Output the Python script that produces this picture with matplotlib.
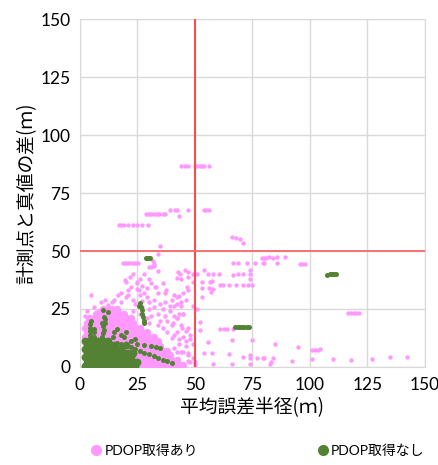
import matplotlib
matplotlib.use("Agg")
import matplotlib.pyplot as plt
from matplotlib.lines import Line2D

plt.rcParams['font.family'] = ['Lato', 'Noto Sans CJK JP', 'DejaVu Sans']

# --- data (x = 平均誤差半径, y = 計測点と真値の差) ---
# dense pink area, one row per y value
pink_blob_rows = [
    (1,  [23, 25, 27, 29, 31, 33, 35, 37, 39, 41, 43, 45]),
    (3,  [22, 24, 26, 28, 30, 32, 34, 36, 38, 40, 42]),
    (5,  [23, 25, 27, 29, 31, 33, 35, 37, 39]),
    (7,  [20, 22, 24, 26, 28, 30, 32, 34, 36, 38]),
    (9,  [15, 17, 19, 21, 23, 25, 27, 29, 31, 33, 35]),
    (11, [14, 16, 18, 20, 22, 24, 26, 28, 30, 32, 34]),
    (13, [2, 4, 6, 8, 10, 12, 14, 16, 18, 20, 22, 24, 26, 28, 30, 32]),
    (15, [3, 5, 7, 9, 11, 13, 15, 17, 19, 21, 23, 25, 27, 29]),
    (17, [2, 4, 6, 8, 10, 12, 14, 16, 18, 20, 22, 24, 26]),
    (19, [3, 5, 7, 9, 11, 13, 15, 17, 19, 21, 23]),
    (21, [4, 6, 8, 10, 12, 14, 16, 18, 20, 22]),
    (23, [7, 9, 11, 13, 15, 17, 19]),
    (25, [10, 12, 14, 16]),
]

pink_scatter = [
    (5, 31), (9, 28), (12, 26.7), (16.5, 31), (21, 31), (19.6, 37.5), (22, 34.5),
    (25, 36), (25.5, 33), (26, 31), (32.6, 34.5), (34, 32), (37, 32), (20, 30),
    (21, 33), (20, 36.5), (21.7, 38.8), (24.8, 36.6), (24.8, 33.8), (33, 34.5),
    (37.4, 33), (28, 32), (29, 30), (30, 28), (32, 29), (35, 27), (37, 28),
    (40, 29), (42, 30), (44, 28), (46, 29), (36, 25), (39, 24), (41, 22),
    (43, 23), (45, 23), (42, 21), (38, 20), (40, 18), (44, 18), (47, 17),
    (42, 15), (45, 13), (48, 12), (40, 12.5), (43, 10), (46, 9), (41, 8),
    (44, 6.5), (47, 6), (49, 4), (42, 3.5), (48, 2), (50, 1), (14, 28),
    (18, 28), (24, 27), (27, 26), (30, 25), (32, 26), (34, 23), (31, 22),
    (35, 20), (37, 22), (36, 17), (38, 15), (34, 18), (30, 19), (29, 21),
    (26, 23), (23, 24), (3, 24), (2, 22), (6, 26), (8, 24), (11, 29),
    (15, 29), (18, 32), (23, 29), (27, 28.5), (29, 34), (31, 36), (36, 36),
    (30, 38), (28, 40), (34, 41.4), (30, 43), (31, 43), (32, 44.4), (31.7, 45.7),
    (32, 43.5), (35, 52), (34, 48.7), (26, 38), (23, 40), (27, 35),
    (42.6, 41), (43.6, 40.3), (45.6, 41.8), (47, 41), (49, 40), (51, 40),
    (47, 38.8), (49, 36.6), (46.5, 34.5), (47, 33), (53, 34), (42, 38.3),
    (44, 37.8), (41, 31), (43, 30.5), (45, 32), (42, 27), (44, 26.5),
    (39, 26.5), (41, 26.3), (49, 26.3), (51, 25), (45, 23), (52, 19.4),
    (52, 16), (42, 21), (40.5, 19), (44.5, 17), (46, 15.5), (48, 14), (41, 14),
    (43, 12), (46, 11), (49, 10), (42, 6.5), (45, 6.5), (47, 5),
    (39, 2), (47, 2.5), (50, 2),
    (54, 41.8), (55.6, 40), (57.8, 40), (60.4, 40), (53, 36.5), (56.5, 36.5),
    (57.4, 37), (56, 34), (57, 32.5), (58, 33.5), (53, 30),
    (61, 35.3), (62, 35.3), (65, 35.3), (68, 35.3), (71, 35.3), (73, 35.5),
    (75, 35.5), (66.5, 39.7), (68.7, 40), (71, 40), (74, 40.3), (74, 41.8),
    (74, 38), (66.5, 44.8), (68.7, 44.8), (72.6, 44.8), (76, 44.8), (79.6, 44.8),
    (66, 56.2), (68, 55.5), (69.5, 55), (70.7, 53.3),
    (61, 16.4), (62.5, 16.4), (64, 16.4), (66.5, 16.4),
    (55.6, 10.8), (66, 11.6), (75, 11.6), (54, 6), (57.4, 6), (65, 5.6),
    (71, 4.5), (74, 5), (74, 4), (77, 4), (79.6, 4), (58, 1.3), (66, 1.3),
    (74, 1.3), (82.6, 1.3),
    (79, 47), (80, 47), (81, 47), (82, 47.3), (84, 47), (85.6, 47.5), (89, 47.5),
    (80, 45), (85.6, 45), (95.6, 44.4), (96.7, 44.4), (97.8, 44.4),
    (116.5, 23.3), (117.7, 23.3), (119, 23.3), (120.2, 23.3), (121.3, 23.3),
    (84.8, 10), (94.8, 8.6), (101, 7.3), (102.2, 7.3), (103.5, 7.3), (104.3, 7.8),
    (80, 4), (84, 4), (83, 2), (92, 2.6), (101, 3.4), (110, 3.4), (118, 3),
    (127, 3.4), (135, 4.3), (142, 4.3),
]

# rows of points at one y value
pink_runs = [
    (86.5, [44, 45.5, 47, 50, 51, 52, 53, 54, 56]),
    (67.7, [39, 41.5, 42, 47, 54, 55, 56]),
    (66,   [28.5, 29.5, 30.5, 31.5, 32.5, 33.5, 34.5, 36, 37]),
    (65,   [43]),
    (61.2, [17, 18, 19, 21, 23, 25, 27, 29.5]),
    (44.8, [18.7, 19.5, 20.5, 21.5, 22.5, 23.5, 24.5, 25.2]),
]

green_blob_rows = [
    (0.5, [2, 4, 6, 8, 10, 12, 14, 16, 18, 20, 22, 24]),
    (2.3, [3, 5, 7, 9, 11, 13, 15, 17, 19, 21, 23, 25]),
    (4.1, [2, 4, 6, 8, 10, 12, 14, 16, 18, 20, 22]),
    (5.9, [3, 5, 7, 9, 11, 13, 15, 17, 19, 21, 23]),
    (7.7, [2, 4, 6, 8, 10, 12, 14, 16, 18]),
    (9.5, [3, 5, 7, 9, 11, 13, 15, 20]),
    (11,  [2, 4, 6, 8, 10, 12]),
]

green_scatter = [
    (4.5, 12.5), (4.5, 14), (4.5, 15.5), (4.5, 17), (4.5, 18.5), (5, 20),
    (6, 13), (6, 15), (6, 16.5), (9.5, 13), (10, 14.5), (10.5, 16), (10, 17.5),
    (11, 19), (11, 20.5), (10.5, 21.5), (9.5, 19), (10, 24.5), (12, 23.7),
    (14.5, 13), (15, 15), (16, 16.5), (18, 14), (19, 13), (20, 15),
    (26, 27.5), (25.5, 26.5), (26.5, 26), (27, 24.5), (27, 23), (27.5, 21.5),
    (28, 20), (28, 19),
    (22, 8.6), (24, 7.8), (26, 7), (28, 6.2), (30, 5.5), (32, 4.8), (34, 4),
    (36, 3.2), (38, 2.4), (40, 1.7),
    (25, 10), (28, 9.5), (31, 9), (33, 8.5), (35, 8),
    (16, 10.5), (18, 10), (22, 11), (24, 12),
    (28.8, 47), (29.5, 47.2), (30.3, 47),
    (67.5, 17.2), (68.5, 17.2), (69.5, 17.2), (70.5, 17.2), (71.5, 17.2),
    (72.5, 17.2), (73.5, 17.2),
    (107.5, 39.8), (108.5, 39.9), (109.5, 40), (110.5, 40.1), (111.5, 40.3),
]

label_pink = 'PDOP取得あり'
label_green = 'PDOP取得なし'
pink = '#ff99ff'
green = '#548235'


def flatten_rows(rows):
    xs, ys = [], []
    for y, row in rows:
        xs += row
        ys += [y] * len(row)
    return xs, ys


def split(points):
    return [p[0] for p in points], [p[1] for p in points]


fig = plt.figure(figsize=(4.39, 4.65), dpi=100)
ax = fig.add_axes([0.1822, 0.2108, 0.7858, 0.7482])

# the dense parts are drawn with a bigger dot so they read as solid areas
bx, by = flatten_rows(pink_blob_rows)
ax.scatter(bx, by, s=28, color=pink, linewidths=0, zorder=3)
rx, ry = flatten_rows(pink_runs)
ax.scatter(rx, ry, s=10, color=pink, linewidths=0, zorder=3)
sx, sy = split(pink_scatter)
ax.scatter(sx, sy, s=10, color=pink, linewidths=0, zorder=3)

gx, gy = flatten_rows(green_blob_rows)
ax.scatter(gx, gy, s=32, color=green, linewidths=0, zorder=4)
gsx, gsy = split(green_scatter)
ax.scatter(gsx, gsy, s=13, color=green, linewidths=0, zorder=4)

ax.axvline(50, color='#ff3b3b', lw=1.3, zorder=5)
ax.axhline(50, color='#f46a6a', lw=1.3, zorder=5)

ax.set_xlim(0, 150)
ax.set_ylim(0, 150)
ax.set_xticks(range(0, 151, 25))
ax.set_yticks(range(0, 151, 25))
ax.grid(True, color='#d9d9d9', lw=1)
ax.set_axisbelow(True)
for s in ax.spines.values():
    s.set_color('#d9d9d9')
ax.tick_params(length=0, labelsize=12.5, pad=7, colors='black')

cjk = ['Noto Sans CJK JP', 'DejaVu Sans']
ax.set_xlabel('平均誤差半径(ｍ)', fontsize=13.5, labelpad=3, family=cjk)
ax.set_ylabel('計測点と真値の差(ｍ)', fontsize=13.5, labelpad=2, family=cjk)

handles = [
    Line2D([], [], ls='', marker='o', ms=7, color=pink, label=label_pink),
    Line2D([], [], ls='', marker='o', ms=7, color=green, label=label_green),
]
fig.legend(handles=handles, loc='center', bbox_to_anchor=(0.585, 0.03), ncol=2,
           frameon=False, fontsize=10, handletextpad=0.1, columnspacing=8.5,
           handlelength=1)

fig.savefig('out.png', dpi=100)
